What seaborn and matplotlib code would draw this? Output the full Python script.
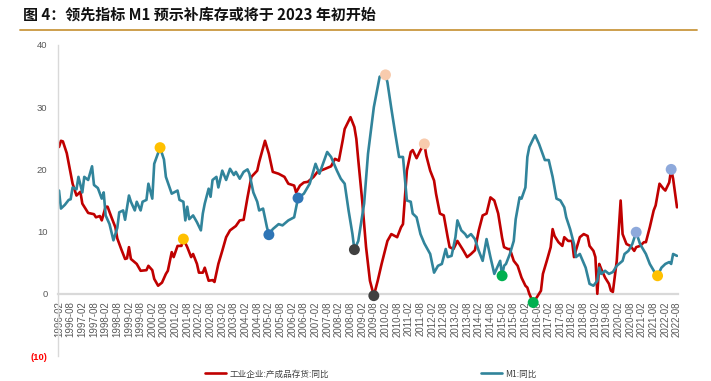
import matplotlib
matplotlib.use("Agg")
import matplotlib.pyplot as plt
from matplotlib.lines import Line2D
import seaborn as sns
import pandas as pd

# ---------------- data ----------------
ind_dates = ["1996-02", "1996-03", "1996-04", "1996-06", "1996-09", "1996-11", "1997-01", "1997-02",
             "1997-05", "1997-08", "1997-09", "1997-11", "1997-12", "1998-02", "1998-03", "1998-05",
             "1998-07", "1998-08", "1998-10", "1998-12", "1999-01", "1999-02", "1999-03", "1999-06",
             "1999-08", "1999-11", "1999-12", "2000-02", "2000-03", "2000-05", "2000-07", "2000-09",
             "2000-10", "2000-12", "2001-01", "2001-03", "2001-05", "2001-06", "2001-08", "2001-10",
             "2001-11", "2002-01", "2002-02", "2002-04", "2002-05", "2002-07", "2002-09", "2002-10",
             "2002-12", "2003-02", "2003-04", "2003-06", "2003-09", "2003-11", "2004-01", "2004-03",
             "2004-05", "2004-08", "2004-09", "2004-12", "2005-02", "2005-04", "2005-07", "2005-10",
             "2005-12", "2006-03", "2006-04", "2006-06", "2006-08", "2006-10", "2007-01", "2007-03",
             "2007-07", "2007-10", "2007-12", "2008-02", "2008-04", "2008-05", "2008-08", "2008-10",
             "2008-11", "2008-12", "2009-02", "2009-04", "2009-06", "2009-08", "2009-10", "2009-12",
             "2010-03", "2010-05", "2010-08", "2010-10", "2010-11", "2011-01", "2011-03", "2011-04",
             "2011-06", "2011-08", "2011-10", "2011-11", "2012-01", "2012-03", "2012-04", "2012-06",
             "2012-08", "2012-10", "2012-11", "2013-01", "2013-03", "2013-05", "2013-06", "2013-08",
             "2013-10", "2013-12", "2014-02", "2014-04", "2014-06", "2014-08", "2014-10", "2014-12",
             "2015-02", "2015-03", "2015-05", "2015-06", "2015-08", "2015-10", "2015-12", "2016-02",
             "2016-03", "2016-04", "2016-06", "2016-08", "2016-10", "2016-11", "2017-01", "2017-03",
             "2017-04", "2017-05", "2017-07", "2017-09", "2017-10", "2017-12", "2018-02", "2018-03",
             "2018-04", "2018-06", "2018-08", "2018-10", "2018-11", "2019-01", "2019-02", "2019-03",
             "2019-04", "2019-05", "2019-07", "2019-09", "2019-10", "2019-11", "2020-01", "2020-03",
             "2020-04", "2020-06", "2020-08", "2020-10", "2020-11", "2021-01", "2021-03", "2021-04",
             "2021-06", "2021-08", "2021-09", "2021-11", "2022-01", "2022-02", "2022-04", "2022-05",
             "2022-06", "2022-08"]
ind_values = [23.6, 24.6, 24.5, 22.6, 17.7, 15.8, 16.4, 14.5,
              13.0, 12.8, 12.3, 12.5, 11.8, 14.0, 14.0, 12.3,
              10.7, 8.9, 7.2, 5.6, 5.7, 7.5, 5.6, 4.8,
              3.7, 3.8, 4.5, 3.8, 2.4, 1.3, 1.8, 3.2,
              3.7, 6.7, 5.9, 7.7, 7.7, 8.8, 7.5, 5.9,
              6.4, 4.8, 3.4, 3.4, 4.2, 2.1, 2.2, 1.9,
              4.8, 6.9, 9.1, 10.2, 10.9, 11.8, 11.9, 15.5,
              18.8, 19.8, 21.2, 24.6, 22.5, 19.6, 19.3, 18.8,
              17.7, 17.4, 16.3, 17.4, 17.9, 18.0, 18.8, 19.6,
              20.1, 20.5, 21.7, 21.4, 24.7, 26.5, 28.4, 26.8,
              24.9, 21.5, 15.0, 7.5, 2.1, -0.3, 2.1, 4.8,
              8.5, 9.6, 9.1, 10.7, 11.2, 19.8, 22.8, 23.1,
              21.8, 23.1, 24.1, 22.2, 19.8, 18.2, 16.1, 12.9,
              12.6, 9.1, 7.5, 7.2, 8.5, 7.5, 7.0, 5.9,
              6.4, 7.0, 10.2, 12.6, 12.9, 15.5, 15.0, 12.9,
              9.0, 7.5, 7.2, 7.2, 5.3, 4.5, 2.6, 1.3,
              1.0, 0.0, -1.4, -0.5, 0.5, 3.2, 5.3, 7.5,
              10.4, 9.3, 8.3, 7.7, 9.1, 8.5, 8.5, 5.9,
              7.0, 9.1, 9.6, 9.3, 7.7, 6.9, 5.9, 0.0,
              4.8, 4.0, 2.6, 1.6, 0.5, 0.3, 5.3, 15.0,
              9.6, 8.0, 7.7, 6.9, 7.5, 7.7, 8.3, 8.3,
              10.7, 13.4, 14.2, 17.7, 16.9, 16.6, 17.9, 20.0,
              18.5, 13.9]

m1_dates = ["1996-02", "1996-03", "1996-05", "1996-07", "1996-08", "1996-09", "1996-11", "1996-12",
            "1997-02", "1997-03", "1997-05", "1997-07", "1997-08", "1997-10", "1997-12", "1998-01",
            "1998-02", "1998-04", "1998-06", "1998-08", "1998-09", "1998-11", "1998-12", "1999-02",
            "1999-03", "1999-05", "1999-06", "1999-08", "1999-09", "1999-11", "1999-12", "2000-02",
            "2000-03", "2000-06", "2000-08", "2000-09", "2000-12", "2001-03", "2001-04", "2001-06",
            "2001-07", "2001-08", "2001-09", "2001-11", "2002-01", "2002-03", "2002-04", "2002-05",
            "2002-07", "2002-08", "2002-09", "2002-11", "2002-12", "2003-02", "2003-04", "2003-06",
            "2003-08", "2003-09", "2003-11", "2004-01", "2004-03", "2004-04", "2004-06", "2004-08",
            "2004-09", "2004-11", "2005-01", "2005-02", "2005-04", "2005-07", "2005-09", "2005-12",
            "2006-03", "2006-05", "2006-08", "2006-11", "2007-02", "2007-04", "2007-08", "2007-10",
            "2008-01", "2008-03", "2008-05", "2008-07", "2008-09", "2008-10", "2008-12", "2009-03",
            "2009-05", "2009-08", "2009-11", "2010-02", "2010-03", "2010-05", "2010-07", "2010-09",
            "2010-11", "2011-01", "2011-03", "2011-04", "2011-06", "2011-08", "2011-10", "2012-01",
            "2012-03", "2012-05", "2012-07", "2012-09", "2012-10", "2012-12", "2013-02", "2013-03",
            "2013-05", "2013-07", "2013-08", "2013-10", "2013-12", "2014-02", "2014-04", "2014-06",
            "2014-08", "2014-10", "2015-01", "2015-02", "2015-03", "2015-04", "2015-06", "2015-08",
            "2015-09", "2015-11", "2015-12", "2016-02", "2016-03", "2016-04", "2016-06", "2016-07",
            "2016-09", "2016-12", "2017-02", "2017-04", "2017-06", "2017-08", "2017-10", "2017-11",
            "2018-01", "2018-03", "2018-04", "2018-06", "2018-09", "2018-11", "2019-01", "2019-03",
            "2019-04", "2019-05", "2019-07", "2019-09", "2019-11", "2020-01", "2020-04", "2020-05",
            "2020-07", "2020-09", "2020-11", "2021-01", "2021-04", "2021-06", "2021-09", "2021-10",
            "2021-12", "2022-02", "2022-04", "2022-05", "2022-06", "2022-08"]
m1_values = [16.6, 13.7, 14.3, 15.1, 15.2, 17.1, 16.8, 18.8,
             16.3, 18.8, 18.3, 20.5, 17.5, 17.0, 15.3, 16.3,
             12.6, 11.2, 8.6, 10.6, 13.1, 13.4, 11.9, 15.8,
             14.8, 13.4, 14.8, 13.4, 14.8, 15.1, 17.7, 15.3,
             20.9, 23.5, 21.6, 18.8, 16.1, 16.6, 15.1, 14.8,
             11.8, 14.0, 12.0, 12.6, 11.5, 10.2, 12.9, 14.5,
             16.9, 15.6, 18.3, 18.8, 17.1, 19.8, 18.3, 20.1,
             19.1, 19.6, 18.5, 19.6, 20.0, 19.3, 16.3, 14.8,
             13.4, 13.7, 10.7, 9.5, 10.4, 11.2, 11.0, 11.8,
             12.3, 15.4, 16.1, 17.7, 20.9, 19.3, 22.8, 22.0,
             19.8, 18.5, 17.7, 13.4, 9.6, 7.1, 8.5, 14.5,
             22.5, 30.0, 34.9, 35.2, 34.0, 29.8, 25.8, 22.0,
             22.0, 15.0, 14.8, 12.9, 12.3, 9.6, 8.1, 6.4,
             3.4, 4.5, 4.8, 7.2, 5.9, 6.1, 9.1, 11.8,
             10.2, 9.6, 9.1, 9.6, 8.8, 6.9, 5.3, 8.8,
             5.9, 3.2, 5.3, 2.9, 4.5, 4.8, 6.4, 8.5,
             12.0, 15.5, 15.3, 17.1, 22.0, 23.6, 24.9, 25.5,
             24.1, 21.5, 21.5, 18.8, 15.3, 15.0, 13.9, 12.3,
             10.4, 8.0, 5.9, 6.4, 4.2, 1.6, 1.3, 2.1,
             4.2, 3.2, 3.7, 3.2, 3.5, 4.5, 5.3, 6.4,
             6.9, 8.0, 9.9, 8.0, 6.4, 4.8, 3.2, 2.9,
             4.2, 4.8, 5.1, 4.8, 6.4, 6.1]

ind_name = "工业企业:产成品存货:同比"
m1_name = "M1:同比"

# highlighted points: (series, date, colour)
marker_series = ["m1", "ind", "m1", "m1", "m1", "ind", "m1", "ind", "m1", "ind", "m1", "ind", "m1"]
marker_dates = ["2000-06", "2001-06", "2005-02", "2006-05", "2008-10", "2009-08", "2010-02",
                "2011-10", "2015-02", "2016-06", "2020-11", "2022-05", "2021-10"]
marker_colors = ["#FFC000", "#FFC000", "#2E75B6", "#2E75B6", "#404040", "#404040", "#F8CBAD",
                 "#F8CBAD", "#00B050", "#00B050", "#8EA9DB", "#8EA9DB", "#FFC000"]

x_tick_labels = [f"{y}-{m}" for y in range(1996, 2023) for m in ("02", "08")]
y_ticks = [-10, 0, 10, 20, 30, 40]
y_tick_labels = ["(10)", "0", "10", "20", "30", "40"]

title = "图 4：领先指标 M1 预示补库存或将于 2023 年初开始"

# ---------------- helpers ----------------
def month_index(s):
    y, m = s.split("-")
    return (int(y) - 1996) * 12 + (int(m) - 2)

df = pd.concat([
    pd.DataFrame({"x": [month_index(d) for d in ind_dates], "v": ind_values, "s": ind_name}),
    pd.DataFrame({"x": [month_index(d) for d in m1_dates], "v": m1_values, "s": m1_name}),
], ignore_index=True)

lookup = {"ind": dict(zip(ind_dates, ind_values)), "m1": dict(zip(m1_dates, m1_values))}
mdf = pd.DataFrame({
    "x": [month_index(d) for d in marker_dates],
    "v": [lookup[s][d] for s, d in zip(marker_series, marker_dates)],
    "c": marker_colors,
})

# ---------------- plot ----------------
sns.set_theme(style="white")
plt.rcParams["font.family"] = ["Liberation Sans", "Noto Sans CJK SC", "DejaVu Sans"]

fig = plt.figure(figsize=(7.11, 3.81), dpi=100)
ax = fig.add_axes([58 / 711, 25 / 381, 620 / 711, 311 / 381])

RED = "#C00000"
TEAL = "#31849B"
sns.lineplot(data=df, x="x", y="v", hue="s", palette={ind_name: RED, m1_name: TEAL},
             hue_order=[ind_name, m1_name], sort=False, estimator=None, linewidth=1.9,
             legend=False, ax=ax)
sns.scatterplot(data=mdf, x="x", y="v", hue="c", palette={c: c for c in marker_colors},
                s=62, linewidth=0, legend=False, ax=ax, zorder=5)

px_per_month = 618 / 318
xmin = -1 / px_per_month
ax.set_xlim(xmin, xmin + 620 / px_per_month)
ax.set_ylim(-10, 40)

ax.set_xlabel("")
ax.set_ylabel("")
for sp in ("top", "right"):
    ax.spines[sp].set_visible(False)
# move the x axis to the zero line first (this resets tick properties)
ax.spines["bottom"].set_position(("data", 0))
ax.spines["bottom"].set_color("#D9D9D9")
ax.spines["bottom"].set_linewidth(1.6)
ax.spines["bottom"].set_zorder(1)
ax.spines["left"].set_color("#D9D9D9")
ax.spines["left"].set_linewidth(1.0)

ax.set_xticks([month_index(l) for l in x_tick_labels])
ax.set_xticklabels(x_tick_labels, rotation=90, fontsize=7.0, color="#595959",
                   family=["Liberation Sans", "DejaVu Sans"])
ax.set_yticks(y_ticks)
ax.set_yticklabels(y_tick_labels, fontsize=6.8, color="#595959",
                   family=["Liberation Sans", "DejaVu Sans"])
ax.get_yticklabels()[0].set_color("#FF0000")
ax.get_yticklabels()[0].set_fontweight("bold")

ax.tick_params(axis="x", direction="out", length=3.5, width=0.7, color="#BFBFBF", pad=2)
ax.tick_params(axis="y", direction="out", length=3.5, width=0.7, color="#BFBFBF", pad=4)
ax.grid(False)
ax.set_facecolor("white")

# title and rule
fig.text(23 / 711, 1 - 15 / 381, title, fontsize=10.8, fontweight="bold", color="#111111",
         va="center", ha="left", family=["Noto Sans CJK SC", "DejaVu Sans"])
fig.add_artist(Line2D([20 / 711, 697 / 711], [1 - 29.5 / 381, 1 - 29.5 / 381],
                      color="#C9973F", linewidth=1.3, transform=fig.transFigure))

# legends
leg_font = {"family": ["Noto Sans CJK SC", "DejaVu Sans"], "size": 6.2}
l1 = fig.legend(handles=[Line2D([], [], color=RED, lw=1.9)], labels=[ind_name],
                loc="center left", bbox_to_anchor=(205 / 711, 1 - 374 / 381), frameon=False,
                borderpad=0, borderaxespad=0, handlelength=2.4, handletextpad=0.45,
                prop=leg_font, labelcolor="#404040")
l2 = fig.legend(handles=[Line2D([], [], color=TEAL, lw=1.9)], labels=[m1_name],
                loc="center left", bbox_to_anchor=(481 / 711, 1 - 374 / 381), frameon=False,
                borderpad=0, borderaxespad=0, handlelength=2.4, handletextpad=0.45,
                prop=leg_font, labelcolor="#404040")

fig.savefig("out.png", dpi=100, facecolor="white")
